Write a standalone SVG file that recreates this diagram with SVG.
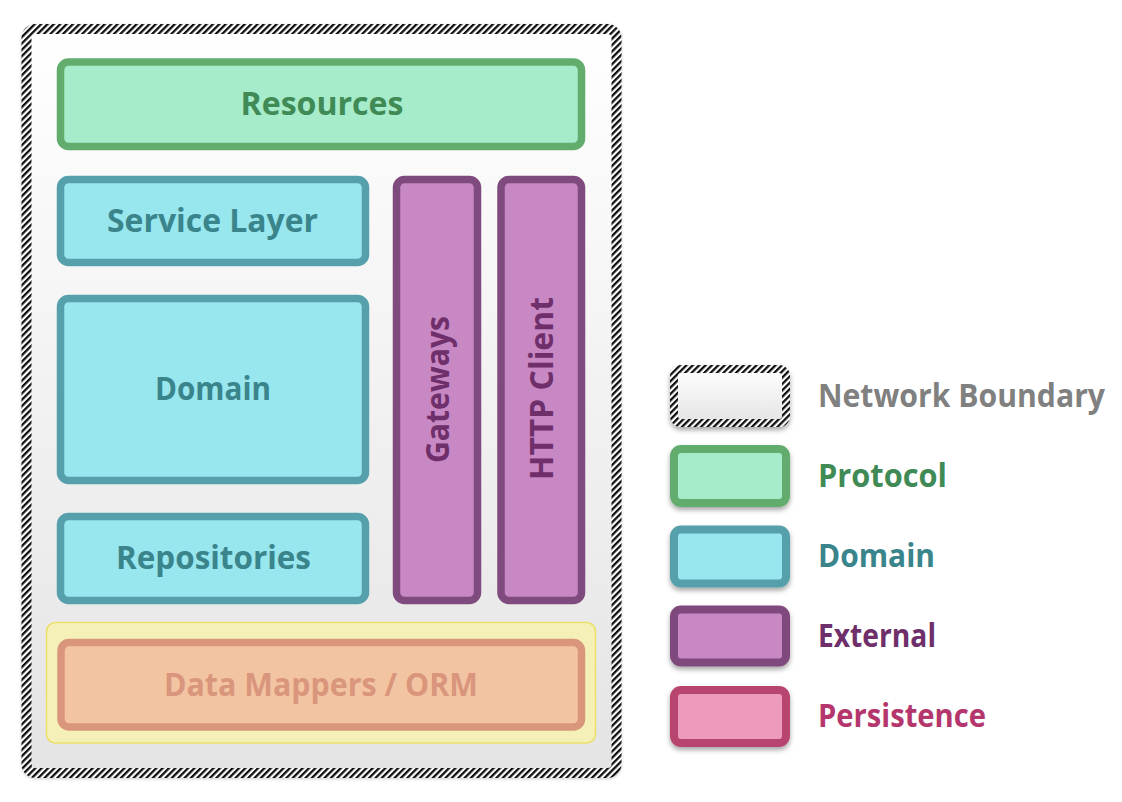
<svg xmlns="http://www.w3.org/2000/svg" width="1122" height="802" viewBox="0 0 1122 802">
<defs>
  <pattern id="hatch" width="4.5" height="4.5" patternUnits="userSpaceOnUse" patternTransform="rotate(45)">
    <rect width="4.5" height="4.5" fill="#ffffff"/>
    <rect width="2.3" height="4.5" fill="#111111"/>
  </pattern>
  <linearGradient id="bgGrad" x1="0" y1="0" x2="0" y2="1">
    <stop offset="0" stop-color="#ffffff"/>
    <stop offset="1" stop-color="#e4e4e4"/>
  </linearGradient>
  <filter id="shadow" x="-20%" y="-20%" width="140%" height="150%">
    <feDropShadow dx="0" dy="3" stdDeviation="2.5" flood-color="#000" flood-opacity="0.35"/>
  </filter>
  <filter id="softShadow" x="-5%" y="-5%" width="110%" height="110%">
    <feDropShadow dx="0" dy="1" stdDeviation="1.5" flood-color="#000" flood-opacity="0.2"/>
  </filter>
</defs>
<style>
  text { font-family: "Open Sans", "Noto Sans", "Liberation Sans", sans-serif; font-weight: bold; font-size: 31.5px; }
  .c { text-anchor: middle; }
  .protocol rect { fill: #a6ecca; stroke: #62ad6e; }
  .protocol text { fill: #3f8a55; }
  .domain rect { fill: #98e6ee; stroke: #55a0aa; }
  .domain text { fill: #3a848c; }
  .external rect { fill: #c888c3; stroke: #7f4a7e; }
  .external text { fill: #6e2f6a; }
  .persist rect { fill: #ec9bbd; stroke: #b8456f; }
  .mapper rect { fill: #f3c4a2; stroke: #d9967c; }
  .mapper text { fill: #d9967c; }
  .box { stroke-width: 7.5; }
  .boundary { fill: url(#bgGrad); stroke: url(#hatch); stroke-width: 10; }
</style>

<g id="network-boundary">
  <rect class="boundary" x="26.5" y="29" width="590" height="744" rx="9" filter="url(#softShadow)"/>
</g>

<g id="resources" class="protocol">
  <rect class="box" x="60.5" y="62" width="521" height="84.5" rx="8"/>
  <text class="c" x="322" y="115" textLength="163" lengthAdjust="spacingAndGlyphs">Resources</text>
</g>

<g id="service-layer" class="domain">
  <rect class="box" x="60.5" y="179.5" width="305" height="83" rx="8"/>
  <text class="c" x="212.5" y="232" textLength="211" lengthAdjust="spacingAndGlyphs">Service Layer</text>
</g>

<g id="domain" class="domain">
  <rect class="box" x="60.5" y="298.5" width="305" height="182" rx="8"/>
  <text class="c" x="213" y="400" textLength="116" lengthAdjust="spacingAndGlyphs">Domain</text>
</g>

<g id="repositories" class="domain">
  <rect class="box" x="60.5" y="516.5" width="305" height="84" rx="8"/>
  <text class="c" x="213.5" y="569" textLength="195" lengthAdjust="spacingAndGlyphs">Repositories</text>
</g>

<g id="gateways" class="external">
  <rect class="box" x="396.5" y="179.5" width="81" height="421" rx="8"/>
  <text class="c" transform="translate(449,389.5) rotate(-90)" textLength="147" lengthAdjust="spacingAndGlyphs">Gateways</text>
</g>

<g id="http-client" class="external">
  <rect class="box" x="501" y="179.5" width="80.5" height="421" rx="8"/>
  <text class="c" transform="translate(553,388.5) rotate(-90)" textLength="183" lengthAdjust="spacingAndGlyphs">HTTP Client</text>
</g>

<g id="persistence-zone">
  <rect x="46.5" y="622.5" width="549" height="120.5" rx="9" fill="#f5f0b8" stroke="#ede06a" stroke-width="1.5"/>
</g>

<g id="data-mappers" class="mapper">
  <rect class="box" x="61" y="642.5" width="520.5" height="84.5" rx="8"/>
  <text class="c" x="321" y="696" textLength="314" lengthAdjust="spacingAndGlyphs">Data Mappers / ORM</text>
</g>

<g id="legend">
  <g id="legend-boundary">
    <rect x="674" y="369" width="112" height="54" rx="7" fill="url(#bgGrad)" stroke="url(#hatch)" stroke-width="8" filter="url(#shadow)"/>
    <text x="818" y="407" fill="#808080" textLength="287" lengthAdjust="spacingAndGlyphs">Network Boundary</text>
  </g>
  <g id="legend-protocol" class="protocol">
    <rect x="674" y="449" width="112" height="54" rx="7" stroke-width="8" filter="url(#shadow)"/>
    <text x="818" y="487" textLength="129" lengthAdjust="spacingAndGlyphs">Protocol</text>
  </g>
  <g id="legend-domain" class="domain">
    <rect x="674" y="529.5" width="112" height="54" rx="7" stroke-width="8" filter="url(#shadow)"/>
    <text x="818" y="567" textLength="117" lengthAdjust="spacingAndGlyphs">Domain</text>
  </g>
  <g id="legend-external" class="external">
    <rect x="674" y="609.5" width="112" height="53" rx="7" stroke-width="8" filter="url(#shadow)"/>
    <text x="818" y="647" textLength="118" lengthAdjust="spacingAndGlyphs">External</text>
  </g>
  <g id="legend-persistence" class="persist">
    <rect x="674" y="690" width="112" height="53" rx="7" stroke-width="8" filter="url(#shadow)"/>
    <text x="818" y="727" fill="#b5366c" textLength="168" lengthAdjust="spacingAndGlyphs">Persistence</text>
  </g>
</g>
</svg>
